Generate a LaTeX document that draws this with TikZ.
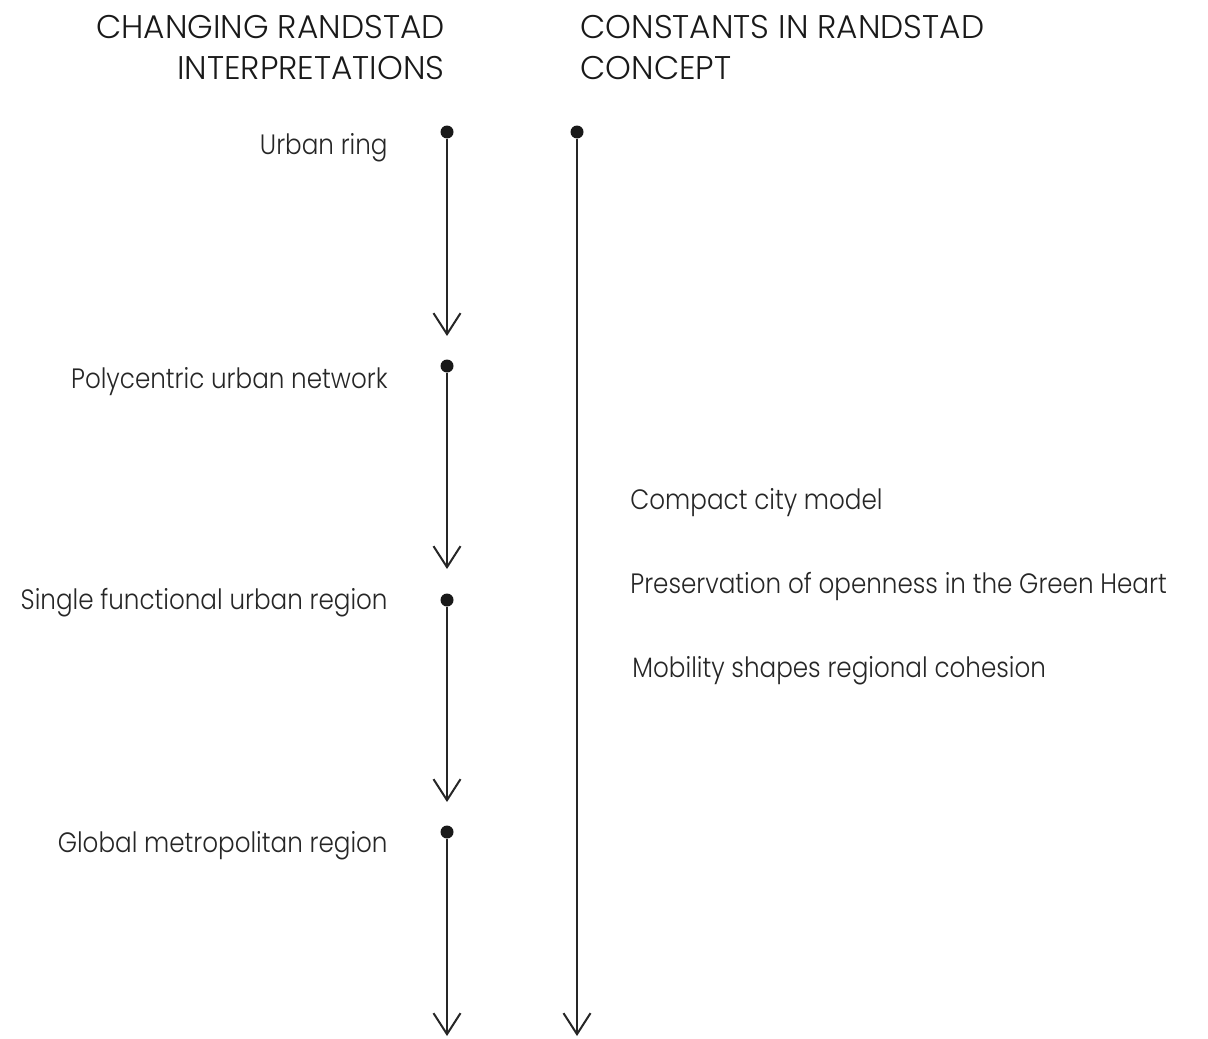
\documentclass[tikz,border=0pt]{standalone}
\usepackage{fontspec}
\setmainfont{Poppins}[UprightFont=* Light]
\newfontfamily\narrowfont{Poppins}[UprightFont=* Light, FakeStretch=0.88]
\usetikzlibrary{arrows.meta}

\begin{document}
\begin{tikzpicture}[
  x=0.5pt, y=-0.5pt,
  dot/.style={circle, fill=black!90, minimum size=6.5pt, inner sep=0pt},
  flow/.style={draw=black!85, line width=1pt,
    -{Straight Barb[length=10.5pt, width=13.5pt, line width=1pt]}},
  lbl/.style={font=\narrowfont\fontsize{14}{17}\selectfont, text=black!85, inner sep=0pt},
  head/.style={font=\fontsize{16.4}{20}\selectfont, text=black!90, inner sep=0pt}
]
  \useasboundingbox (0,0) rectangle (1208,1038);

  % Headings
  \node[head, anchor=base east] (hl1) at (445,39) {CHANGING RANDSTAD};
  \node[head, anchor=base east] (hl2) at (445,80) {INTERPRETATIONS};
  \node[head, anchor=base west] (hr1) at (580,39) {CONSTANTS IN RANDSTAD};
  \node[head, anchor=base west] (hr2) at (580,80) {CONCEPT};

  % Changing interpretations
  \node[dot] (d1) at (447,132) {};
  \coordinate (t1) at (447,336);
  \draw[flow] (d1) -- (t1);
  \node[lbl, anchor=base east] (l1) at (388,155) {Urban ring};

  \node[dot] (d2) at (447,366) {};
  \coordinate (t2) at (447,569);
  \draw[flow] (d2) -- (t2);
  \node[lbl, anchor=base east] (l2) at (388,388) {Polycentric urban network};

  \node[dot] (d3) at (447,600) {};
  \coordinate (t3) at (447,802);
  \draw[flow] (d3) -- (t3);
  \node[lbl, anchor=base east] (l3) at (388,609) {Single functional urban region};

  \node[dot] (d4) at (447,832) {};
  \coordinate (t4) at (447,1036);
  \draw[flow] (d4) -- (t4);
  \node[lbl, anchor=base east] (l4) at (388,852) {Global metropolitan region};

  % Constants
  \node[dot] (d5) at (577,132) {};
  \coordinate (t5) at (577,1036);
  \draw[flow] (d5) -- (t5);
  \node[lbl, anchor=base west] (c1) at (630,509) {Compact city model};
  \node[lbl, anchor=base west] (c2) at (630,593) {Preservation of openness in the Green Heart};
  \node[lbl, anchor=base west] (c3) at (632,677) {Mobility shapes regional cohesion};
\end{tikzpicture}
\end{document}
